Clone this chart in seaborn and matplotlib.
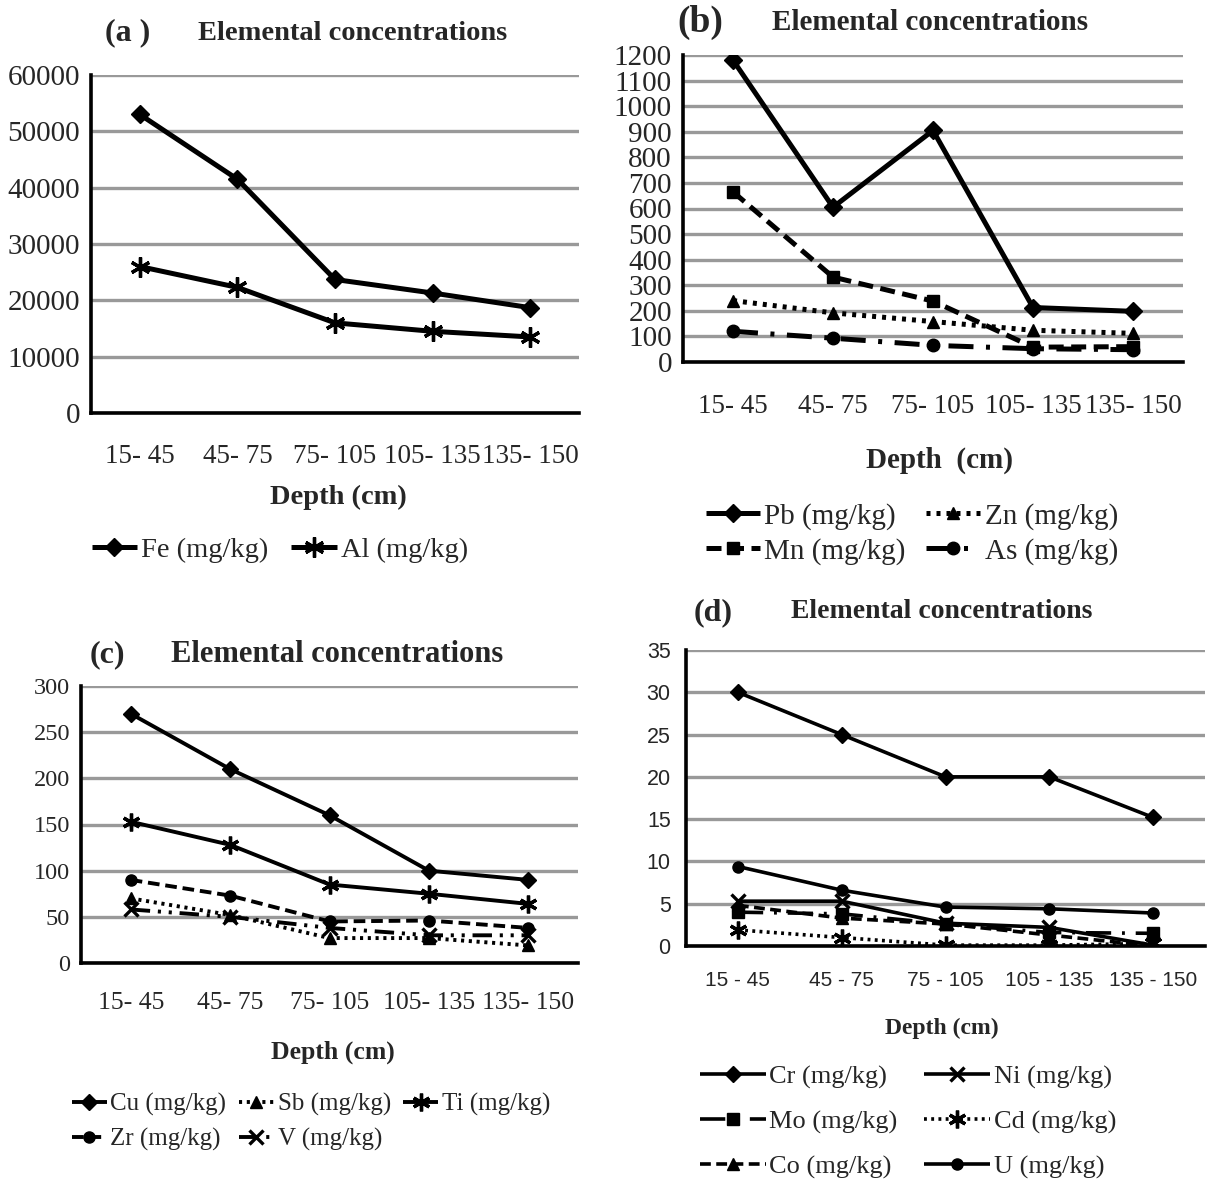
import numpy as np
import pandas as pd
import matplotlib
matplotlib.use("Agg")
import matplotlib.pyplot as plt
import seaborn as sns

# ---------------- data ----------------
depths = ["15- 45", "45- 75", "75- 105", "105- 135", "135- 150"]
depths_d = ["15 - 45", "45 - 75", "75 - 105", "105 - 135", "135 - 150"]

fe = [53000, 41500, 23700, 21300, 18700]
al = [26000, 22300, 16000, 14500, 13500]

pb = [1180, 605, 905, 213, 198]
zn = [240, 192, 158, 124, 112]
mn = [665, 332, 238, 58, 60]
as_ = [120, 93, 65, 52, 48]

cu = [270, 210, 160, 100, 90]
sb = [70, 52, 27, 27, 19]
ti = [153, 128, 85, 75, 64]
zr = [90, 73, 45, 46, 38]
v = [58, 50, 38, 30, 30]

cr = [30, 25, 20, 20, 15.2]
ni = [5.3, 5.3, 2.7, 2.2, 0.1]
mo = [4.0, 3.8, 2.6, 1.6, 1.5]
cd = [1.9, 1.0, 0.1, 0.1, 0.3]
co = [4.8, 3.3, 2.6, 1.3, 0.0]
u = [9.4, 6.6, 4.6, 4.4, 3.9]

W, H = 1208, 1184

sns.set_theme(style="white")
plt.rcParams["font.family"] = ["Liberation Serif", "DejaVu Serif"]

fig = plt.figure(figsize=(W / 100, H / 100), dpi=100)
fig.patch.set_facecolor("white")


def rect(l, r, t, b):
    return [l / W, 1 - b / H, (r - l) / W, (b - t) / H]


def ftext(x, y, s, **kw):
    fig.text(x / W, 1 - y / H, s, ha="center", va="center", **kw)


AST = (6, 2, 0)

LS = {
    "solid": "-",
    "dot": (0, (0.8, 1.2)),
    "dash": (0, (3, 1.5)),
    "dashdot": (0, (5, 2.5, 0.8, 2.5)),
    "dashdotdot": (0, (5, 2, 0.8, 2, 0.8, 2)),
    "longdashdot": (0, (7, 3, 0.8, 3)),
}


def panel(rc, series, ymax, ystep, labels, ytick_fs, xtick_fs, tick_family,
          lw, ms, xpad, ytlen=5):
    ax = fig.add_axes(rc)
    xpos = np.arange(len(labels))
    for name, vals, mk, ls in series:
        d = pd.DataFrame({"x": xpos, "y": vals})
        if mk == AST:
            size, mew = ms * 1.6, 2.4
        elif mk == "x":
            size, mew = ms * 1.3, 2.4
        else:
            size, mew = ms, 1.0
        sns.lineplot(data=d, x="x", y="y", ax=ax, color="black", marker=mk,
                     linestyle=LS[ls], linewidth=lw, markersize=size,
                     markeredgecolor="black", markerfacecolor="black",
                     markeredgewidth=mew, label=name, legend=False,
                     solid_capstyle="butt", dash_capstyle="butt", zorder=3)
    ax.set_xlim(-0.5, len(labels) - 0.5)
    ax.set_ylim(0, ymax)
    ax.set_yticks(np.arange(0, ymax + ystep / 2, ystep))
    ax.set_xticks(np.arange(-0.5, len(labels), 1.0))
    ax.set_xticklabels([])
    ax.set_xticks(xpos, minor=True)
    ax.set_xticklabels(labels, minor=True)
    ax.tick_params(axis="x", which="major", direction="out", length=8, width=2.2, color="black")
    ax.tick_params(axis="x", which="minor", length=0, pad=xpad, labelsize=xtick_fs)
    ax.tick_params(axis="y", direction="out", length=ytlen, width=2.4, color="black",
                   labelsize=ytick_fs, pad=2)
    for lab in ax.get_xticklabels(minor=True) + ax.get_yticklabels():
        lab.set_family(tick_family)
    ax.yaxis.grid(True, color="#999999", linewidth=2.4)
    ax.xaxis.grid(False)
    ax.set_axisbelow(True)
    for s in ["top", "right"]:
        ax.spines[s].set_visible(False)
    for s in ["left", "bottom"]:
        ax.spines[s].set_color("black")
        ax.spines[s].set_linewidth(2.6)
        ax.spines[s].set_zorder(4)
    ax.set_xlabel("")
    ax.set_ylabel("")
    ax.patch.set_alpha(0)
    return ax


def flegend(ax, x, y, ncol, fs, family, colsp=1.0, hl=2.2, rowsp=0.3):
    h, l = ax.get_legend_handles_labels()
    leg = fig.legend(h, l, loc="center", bbox_to_anchor=(x / W, 1 - y / H),
                     ncol=ncol, frameon=False, fontsize=fs, handlelength=hl,
                     handletextpad=0.15, columnspacing=colsp, labelspacing=rowsp,
                     borderaxespad=0, borderpad=0)
    for t in leg.get_texts():
        t.set_family(family)
    return leg


serif = ["Liberation Serif", "DejaVu Serif"]
sans = ["Liberation Sans", "DejaVu Sans"]

# ---------------- panel a ----------------
axa = panel(rect(91, 579, 75, 413),
            [("Fe (mg/kg)", fe, "D", "solid"), ("Al (mg/kg)", al, AST, "solid")],
            60000, 10000, depths, 21, 19.5, serif, 3.6, 9, 22, ytlen=6)
ftext(128, 33, "(a )", fontsize=23, fontweight="bold")
ftext(353, 33, "Elemental concentrations", fontsize=20.5, fontweight="bold")
ftext(338, 497, "Depth (cm)", fontsize=20.5, fontweight="bold")
flegend(axa, 280, 550, 2, 20.5, serif, colsp=0.8, hl=1.6)

# ---------------- panel b ----------------
axb = panel(rect(683, 1183, 55, 362),
            [("Pb (mg/kg)", pb, "D", "solid"), ("Mn (mg/kg)", mn, "s", "dash"),
             ("Zn (mg/kg)", zn, "^", "dot"), ("As (mg/kg)", as_, "o", "dashdot")],
            1200, 100, depths, 21, 19.5, serif, 3.6, 9, 23, ytlen=6)
ftext(700, 22, "(b)", fontsize=27, fontweight="bold")
ftext(930, 22, "Elemental concentrations", fontsize=21, fontweight="bold")
ftext(940, 460, "Depth  (cm)", fontsize=21, fontweight="bold")
flegend(axb, 912, 534, 2, 21, serif, colsp=0.7, hl=1.85, rowsp=0.28)

# ---------------- panel c ----------------
axc = panel(rect(81, 578, 686, 963),
            [("Cu (mg/kg)", cu, "D", "solid"), ("Zr (mg/kg)", zr, "o", "dash"),
             ("Sb (mg/kg)", sb, "^", "dot"), ("V (mg/kg)", v, "x", "dashdotdot"),
             ("Ti (mg/kg)", ti, AST, "solid")],
            300, 50, depths, 17.5, 18.5, serif, 2.8, 8, 21, ytlen=6)
ftext(107, 655, "(c)", fontsize=23, fontweight="bold")
ftext(337, 655, "Elemental concentrations", fontsize=22, fontweight="bold")
ftext(333, 1052, "Depth (cm)", fontsize=18.5, fontweight="bold")
flegend(axc, 311, 1122, 3, 18, serif, colsp=0.5, hl=1.4, rowsp=0.5)

# ---------------- panel d ----------------
axd = panel(rect(686, 1205, 650, 946),
            [("Cr (mg/kg)", cr, "D", "solid"), ("Mo (mg/kg)", mo, "s", "longdashdot"),
             ("Co (mg/kg)", co, "^", "dash"), ("Ni (mg/kg)", ni, "x", "solid"),
             ("Cd (mg/kg)", cd, AST, "dot"), ("U (mg/kg)", u, "o", "solid")],
            35, 5, depths_d, 15.5, 15, sans, 2.6, 8, 18, ytlen=9)
ftext(713, 613, "(d)", fontsize=23, fontweight="bold")
ftext(942, 611, "Elemental concentrations", fontsize=20, fontweight="bold")
ftext(942, 1028, "Depth (cm)", fontsize=17, fontweight="bold")
flegend(axd, 908, 1122, 2, 19, serif, colsp=1.0, hl=2.5, rowsp=0.8)

fig.savefig("out.png", dpi=100, facecolor="white")
